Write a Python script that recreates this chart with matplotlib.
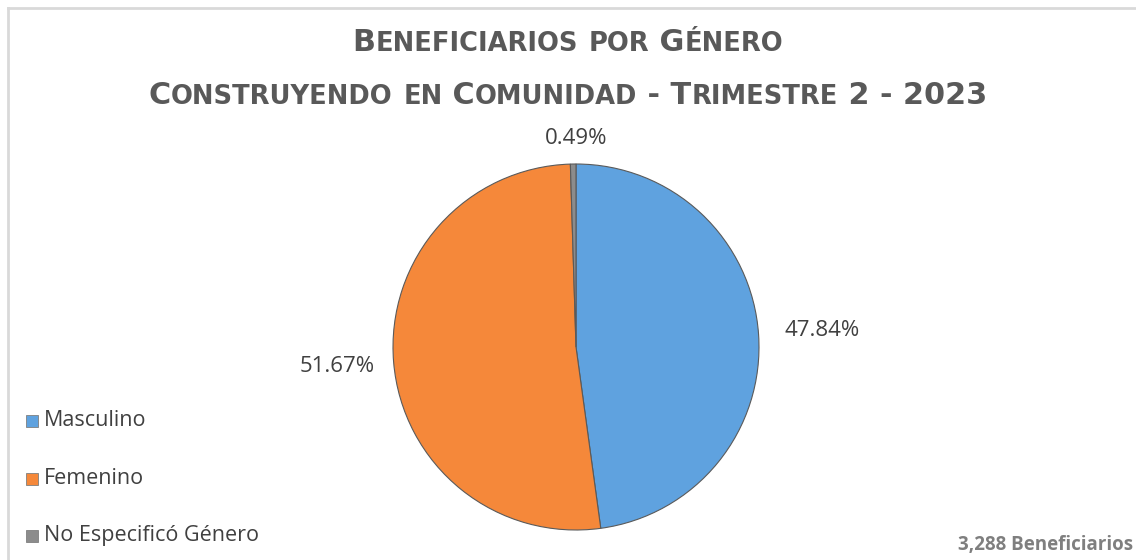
import matplotlib
matplotlib.use('Agg')
import matplotlib.pyplot as plt
from matplotlib.patches import Rectangle
from matplotlib.lines import Line2D
import numpy as np

categories = ['Masculino', 'Femenino', 'No Especificó Género']
shares = [47.84, 51.67, 0.49]
colors = ['#5FA2DF', '#F5883A', '#8C8C8C']
title_lines = ['Beneficiarios por Género',
               'Construyendo en Comunidad - Trimestre 2 - 2023']
total_note = '3,288 Beneficiarios'

plt.rcParams['font.family'] = ['Open Sans', 'DejaVu Sans']

W, H = 1136, 560
fig = plt.figure(figsize=(W / 100, H / 100), dpi=100)
fig.patch.set_facecolor('white')

# light frame (left and top edge visible in the reference)
fig.add_artist(Line2D([8 / W, 8 / W], [0, 1 - 8 / H], color='#D9D9D9', lw=2))
fig.add_artist(Line2D([8 / W, 1], [1 - 8 / H, 1 - 8 / H], color='#D9D9D9', lw=2))

# pie
cx, cy, r = 576, 347, 183
ax = fig.add_axes([(cx - r) / W, (H - cy - r) / H, 2 * r / W, 2 * r / H])
wedges, _ = ax.pie(shares, colors=colors, startangle=90, counterclock=False,
                   wedgeprops=dict(edgecolor='#5A5A5A', linewidth=0.8))
ax.set_aspect('equal')
ax.set_xlim(-1, 1)
ax.set_ylim(-1, 1)

label_dist = [1.35, 1.31, 1.14]
for w, val, d in zip(wedges, shares, label_dist):
    ang = np.deg2rad((w.theta1 + w.theta2) / 2)
    if val < 1:
        ang = np.deg2rad(90)
    ax.text(d * np.cos(ang), d * np.sin(ang), f'{val:.2f}%', ha='center',
            va='center', fontsize=16, color='#404040', clip_on=False)


def small_caps_line(text, y, big=21.8, small=18.5, color='#595959'):
    renderer = fig.canvas.get_renderer()
    pieces = []
    buf, buf_up = '', None
    for ch in text:
        up = not ch.islower()
        if buf_up is None or up == buf_up:
            buf += ch
        else:
            pieces.append((buf, buf_up))
            buf = ch
        buf_up = up
    pieces.append((buf, buf_up))
    arts = []
    for s, up in pieces:
        t = fig.text(0, y, s if up else s.upper(), fontsize=big if up else small,
                     fontweight='bold', color=color, va='baseline',
                     family='DejaVu Sans')
        arts.append(t)
    widths = [a.get_window_extent(renderer).width for a in arts]
    total = sum(widths)
    x = (W - total) / 2
    for a, wd in zip(arts, widths):
        a.set_x(x / W)
        x += wd


small_caps_line(title_lines[0], 1 - 51 / H)
small_caps_line(title_lines[1], 1 - 104 / H)

# legend
leg_y = [421, 479, 536]
for name, c, yy in zip(categories, colors, leg_y):
    fig.add_artist(Rectangle((26 / W, 1 - (yy + 6) / H), 12 / W, 12 / H,
                             facecolor=c, edgecolor='#7F7F7F', lw=0.6))
    fig.text(44 / W, 1 - yy / H, name, fontsize=15.5, color='#404040',
             va='center', ha='left')

fig.text(1133 / W, 1 - 545 / H, total_note, fontsize=13.5, color='#7F7F7F',
         fontweight='bold', ha='right', va='center')

fig.savefig('out.png', dpi=100, facecolor='white')
